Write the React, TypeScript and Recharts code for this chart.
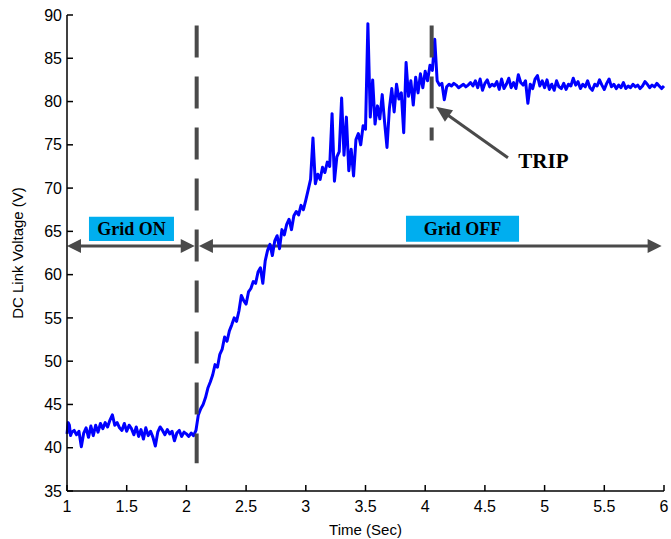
import React from 'react';
import { LineChart, Line, XAxis, YAxis, ReferenceLine, ReferenceArea } from 'recharts';

// DC link voltage trace, [time (s), volts]
const gridOnTrace: [number, number][] = [
  [1.0, 41.6], [1.01, 42.9], [1.02, 42.6], [1.03, 41.4], [1.04, 41.8], [1.06, 42.0], [1.08, 41.5], [1.1, 41.9], [1.12, 40.1], [1.14, 41.7],
  [1.16, 42.3], [1.18, 41.2], [1.2, 42.5], [1.22, 41.4], [1.24, 42.6], [1.26, 41.8], [1.28, 42.8], [1.3, 42.2],
  [1.32, 42.9], [1.34, 42.4], [1.36, 43.2], [1.38, 43.8], [1.4, 42.6], [1.42, 42.9], [1.44, 42.3], [1.46, 42.0],
  [1.48, 42.8], [1.5, 41.9], [1.52, 42.6], [1.54, 42.2], [1.56, 41.5], [1.58, 42.4], [1.6, 41.3], [1.62, 42.1],
  [1.64, 41.0], [1.66, 42.3], [1.68, 41.4], [1.7, 41.9], [1.72, 41.2], [1.74, 40.2], [1.76, 41.8], [1.78, 42.4],
  [1.8, 42.0], [1.82, 41.5], [1.84, 42.1], [1.86, 41.6], [1.88, 41.9], [1.9, 40.8], [1.92, 41.7], [1.94, 42.0],
  [1.96, 41.3], [1.98, 41.8], [2.0, 41.6], [2.02, 41.3], [2.04, 41.7], [2.06, 41.4], [2.08, 42.0],
];

const riseTrace: [number, number][] = [
  [2.1, 43.8], [2.12, 44.5], [2.14, 45.0], [2.16, 45.8], [2.18, 46.9], [2.2, 47.6], [2.22, 48.4], [2.24, 49.6],
  [2.26, 49.3], [2.28, 50.8], [2.3, 51.4], [2.32, 52.8], [2.34, 52.3], [2.36, 53.5], [2.38, 54.2], [2.4, 55.0],
  [2.42, 54.6], [2.44, 55.8], [2.46, 57.6], [2.48, 57.0], [2.5, 56.6], [2.52, 58.0], [2.54, 58.4], [2.56, 59.2],
  [2.58, 59.0], [2.6, 60.3], [2.62, 60.8], [2.64, 59.0], [2.66, 61.6], [2.68, 62.8], [2.7, 63.5], [2.72, 62.2],
  [2.74, 63.9], [2.76, 64.5], [2.78, 63.0], [2.8, 65.2], [2.82, 64.6], [2.84, 65.8], [2.86, 66.4], [2.88, 65.2],
  [2.9, 66.8], [2.92, 67.3], [2.94, 66.9], [2.96, 68.0], [2.98, 67.5], [3.0, 68.6],
];

const spikyTrace: [number, number][] = [
  [3.02, 69.8], [3.04, 71.0], [3.06, 75.8], [3.08, 70.5], [3.1, 71.6], [3.12, 71.0], [3.14, 72.4], [3.16, 71.8],
  [3.18, 73.0], [3.2, 72.5], [3.22, 78.6], [3.24, 70.8], [3.26, 73.6], [3.28, 74.2], [3.3, 80.4], [3.32, 73.8],
  [3.34, 78.2], [3.36, 72.0], [3.38, 74.5], [3.4, 71.4], [3.42, 75.6], [3.44, 76.3], [3.46, 75.0], [3.48, 77.2],
  [3.5, 76.8], [3.52, 89.0], [3.54, 78.2], [3.56, 82.5], [3.58, 77.4], [3.6, 79.5], [3.62, 78.0], [3.64, 80.8],
  [3.66, 77.6], [3.68, 74.7], [3.7, 79.2], [3.72, 81.5], [3.74, 78.8], [3.76, 82.0], [3.78, 80.3], [3.8, 81.0],
  [3.82, 76.4], [3.84, 84.5], [3.86, 80.6], [3.88, 82.4], [3.9, 79.6], [3.92, 82.8], [3.94, 81.0], [3.96, 83.2],
  [3.98, 81.6], [4.0, 83.5], [4.02, 82.4], [4.04, 84.2], [4.06, 83.6], [4.08, 87.2], [4.1, 82.4],
];

const settledTrace: [number, number][] = [
  [4.12, 81.9], [4.14, 82.1], [4.16, 80.2], [4.18, 81.7], [4.2, 82.0], [4.22, 81.8], [4.24, 82.1], [4.26, 81.9],
  [4.28, 81.6], [4.3, 81.8], [4.32, 82.0], [4.34, 81.7], [4.36, 81.9], [4.38, 82.2], [4.4, 81.8], [4.42, 82.4],
  [4.44, 81.6], [4.46, 82.6], [4.48, 81.3], [4.5, 82.1], [4.52, 82.5], [4.54, 81.7], [4.56, 82.0], [4.58, 81.8],
  [4.6, 82.3], [4.62, 81.4], [4.64, 82.6], [4.66, 81.5], [4.68, 82.0], [4.7, 82.7], [4.72, 81.6], [4.74, 82.2],
  [4.76, 81.5], [4.78, 83.1], [4.8, 82.2], [4.82, 81.9], [4.84, 82.4], [4.86, 79.8], [4.88, 82.0], [4.9, 81.5],
  [4.92, 82.6], [4.94, 83.0], [4.96, 81.8], [4.98, 82.4], [5.0, 81.6], [5.02, 82.5], [5.04, 81.4], [5.06, 82.0],
  [5.08, 81.3], [5.1, 82.4], [5.12, 81.7], [5.14, 81.5], [5.16, 82.1], [5.18, 81.4], [5.2, 82.0], [5.22, 81.8],
  [5.24, 82.7], [5.26, 81.9], [5.28, 82.3], [5.3, 81.5], [5.32, 82.0], [5.34, 81.7], [5.36, 82.4], [5.38, 81.6],
  [5.4, 81.3], [5.42, 82.0], [5.44, 81.8], [5.46, 82.5], [5.48, 81.9], [5.5, 81.4], [5.52, 82.1], [5.54, 82.6],
  [5.56, 81.7], [5.58, 82.0], [5.6, 81.5], [5.62, 81.9], [5.64, 81.6], [5.66, 82.2], [5.68, 81.5], [5.7, 81.8],
  [5.72, 81.6], [5.74, 82.0], [5.76, 81.7], [5.78, 81.9], [5.8, 81.5], [5.82, 81.8], [5.84, 82.3], [5.86, 82.0],
  [5.88, 81.6], [5.9, 81.9], [5.92, 81.7], [5.94, 82.1], [5.96, 81.8], [5.98, 81.5], [6.0, 81.8],
];

const xTicks = [1, 1.5, 2, 2.5, 3, 3.5, 4, 4.5, 5, 5.5, 6];
const yTicks = [35, 40, 45, 50, 55, 60, 65, 70, 75, 80, 85, 90];

const gridSwitchTime = 2.086;
const tripTime = 4.054;

const trace = [...gridOnTrace, ...riseTrace, ...spikyTrace, ...settledTrace].map(([t, v]) => ({ t, v }));

const GREY = '#4a4a4a';
const TICK_FONT = { fill: '#000', fontSize: 16, fontFamily: 'Liberation Sans, Arial, sans-serif' };

// double headed horizontal arrow
const DoubleArrow = (p: any) => {
  const { x1, y1, x2 } = p;
  const h = 14, w = 7;
  return (
    <g>
      <line x1={x1 + h - 2} y1={y1} x2={x2 - h + 2} y2={y1} stroke={GREY} strokeWidth={3} />
      <polygon points={`${x1},${y1} ${x1 + h},${y1 - w} ${x1 + h},${y1 + w}`} fill={GREY} />
      <polygon points={`${x2},${y1} ${x2 - h},${y1 - w} ${x2 - h},${y1 + w}`} fill={GREY} />
    </g>
  );
};

// arrow pointing from (x1,y1) to (x2,y2)
const PointerArrow = (p: any) => {
  const { x1, y1, x2, y2 } = p;
  const dx = x2 - x1, dy = y2 - y1;
  const len = Math.sqrt(dx * dx + dy * dy);
  const ux = dx / len, uy = dy / len;
  const h = 16, w = 7;
  const bx = x2 - ux * h, by = y2 - uy * h;
  return (
    <g>
      <line x1={x1} y1={y1} x2={bx + ux * 2} y2={by + uy * 2} stroke={GREY} strokeWidth={3} />
      <polygon
        points={`${x2},${y2} ${bx - uy * w},${by + ux * w} ${bx + uy * w},${by - ux * w}`}
        fill={GREY}
      />
    </g>
  );
};

const boxLabel = (value: string) => ({
  value,
  position: 'center' as const,
  fill: '#000',
  fontSize: 18,
  fontWeight: 'bold',
  fontFamily: 'Liberation Serif, Times New Roman, serif',
});

export default function App() {
  return (
    <div style={{ position: 'absolute', left: 0, top: 0, background: '#fff' }}>
      <LineChart width={671} height={539} data={trace} margin={{ top: 15, right: 7, bottom: 0, left: 0 }}>
        <XAxis
          xAxisId="x"
          dataKey="t"
          type="number"
          domain={[1, 6]}
          ticks={xTicks}
          height={48}
          stroke="#000"
          strokeWidth={1.5}
          tickSize={-6}
          tickMargin={16}
          tick={TICK_FONT}
          label={{ value: 'Time (Sec)', position: 'insideBottom', offset: 4, fill: '#000', fontSize: 15, fontFamily: 'Liberation Sans, Arial, sans-serif' }}
        />
        <XAxis xAxisId="top" orientation="top" type="number" domain={[1, 6]} ticks={xTicks} height={0} stroke="#000" strokeWidth={1.5} tickSize={-6} tick={false} />
        <YAxis
          yAxisId="y"
          type="number"
          domain={[35, 90]}
          ticks={yTicks}
          width={67}
          stroke="#000"
          strokeWidth={1.5}
          tickSize={-6}
          tickMargin={11}
          tick={TICK_FONT}
          label={{
            value: 'DC Link Voltage (V)',
            angle: -90,
            position: 'insideLeft',
            offset: 18,
            fill: '#000',
            fontSize: 15,
            fontFamily: 'Liberation Sans, Arial, sans-serif',
            style: { textAnchor: 'middle' },
          }}
        />
        <YAxis yAxisId="right" orientation="right" type="number" domain={[35, 90]} ticks={yTicks} width={0} stroke="#000" strokeWidth={1.5} tickSize={-6} tick={false} />

        <ReferenceArea xAxisId="x" yAxisId="y" x1={1.184} x2={1.896} y1={63.9} y2={66.7} fill="#00aeef" fillOpacity={1} stroke="none" label={boxLabel('Grid ON')} />
        <ReferenceArea xAxisId="x" yAxisId="y" x1={3.839} x2={4.786} y1={63.8} y2={66.8} fill="#00aeef" fillOpacity={1} stroke="none" label={boxLabel('Grid OFF')} />

        <ReferenceLine xAxisId="x" yAxisId="y" segment={[{ x: 1, y: 63.3 }, { x: 2.07, y: 63.3 }]} shape={DoubleArrow} />
        <ReferenceLine xAxisId="x" yAxisId="y" segment={[{ x: 2.105, y: 63.3 }, { x: 5.98, y: 63.3 }]} shape={DoubleArrow} />

        <Line
          xAxisId="x"
          yAxisId="y"
          dataKey="v"
          type="linear"
          stroke="#0000ff"
          strokeWidth={3}
          strokeLinejoin="round"
          dot={false}
          isAnimationActive={false}
        />

        <ReferenceLine
          xAxisId="x"
          yAxisId="y"
          segment={[{ x: gridSwitchTime, y: 88.8 }, { x: gridSwitchTime, y: 38.2 }]}
          stroke={GREY}
          strokeWidth={4}
          strokeDasharray="32 19"
        />
        <ReferenceLine
          xAxisId="x"
          yAxisId="y"
          segment={[{ x: tripTime, y: 88.8 }, { x: tripTime, y: 75.5 }]}
          stroke={GREY}
          strokeWidth={4}
          strokeDasharray="32 19"
        />
        <ReferenceLine xAxisId="x" yAxisId="y" segment={[{ x: 4.693, y: 73.5 }, { x: 4.09, y: 79.4 }]} shape={PointerArrow} />
        <ReferenceLine
          xAxisId="x"
          yAxisId="y"
          segment={[{ x: 4.99, y: 73.2 }, { x: 4.99, y: 73.2 }]}
          stroke="none"
          label={{ value: 'TRIP', position: 'center', fill: '#000', fontSize: 21, fontWeight: 'bold', fontFamily: 'Liberation Serif, Times New Roman, serif' }}
        />
      </LineChart>
    </div>
  );
}
